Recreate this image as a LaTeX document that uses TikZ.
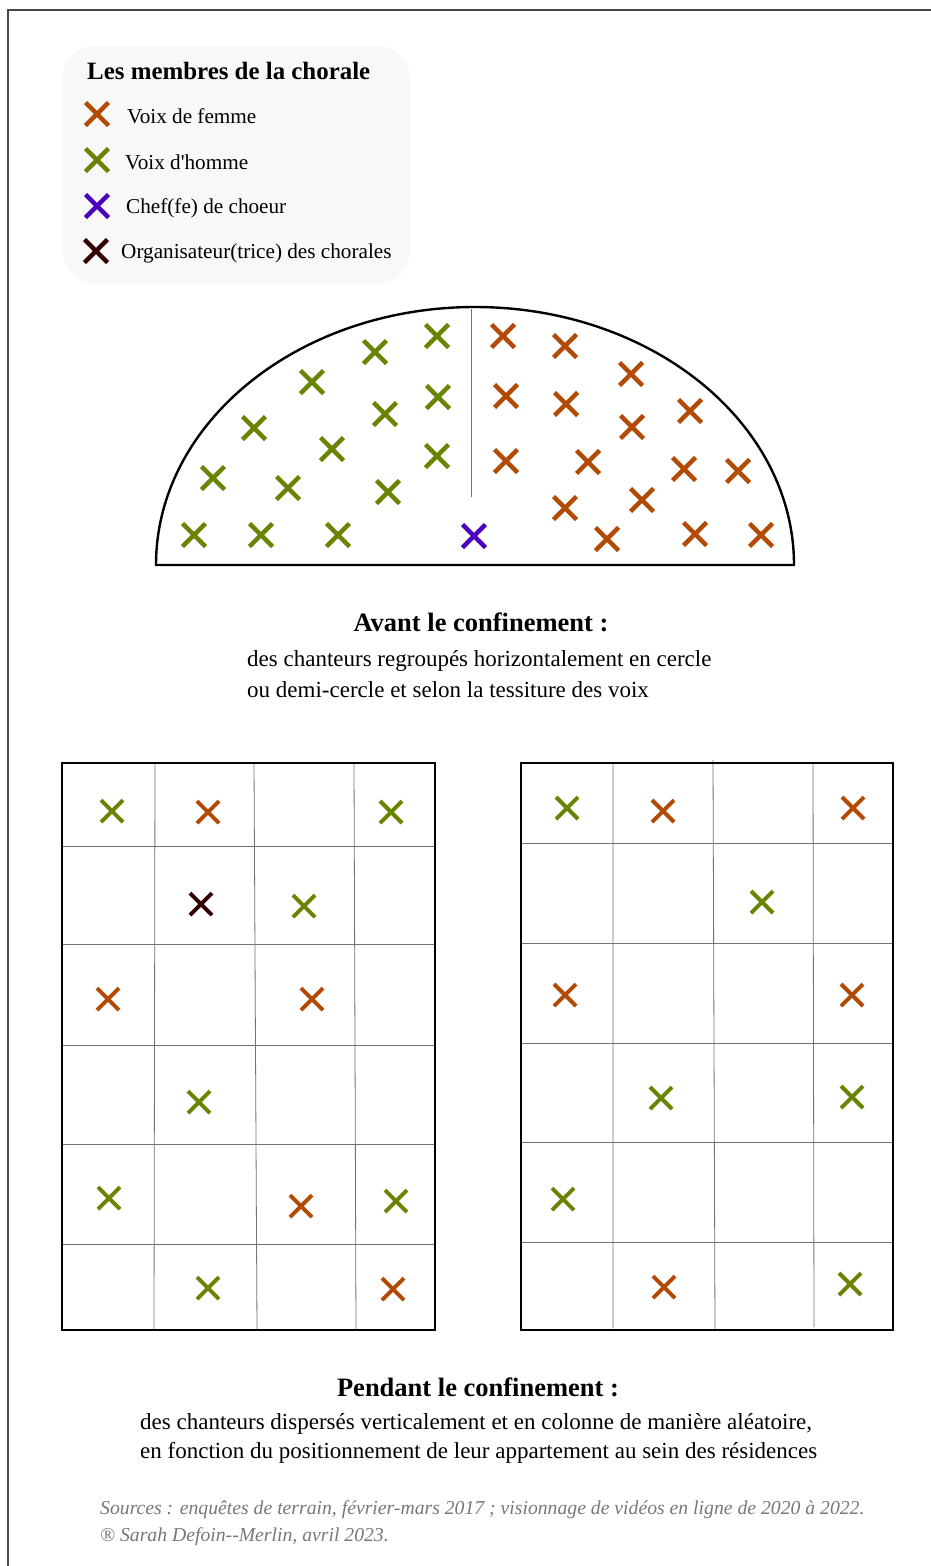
\documentclass[tikz,border=0pt]{standalone}
\usepackage{fontspec}
\newfontfamily\lib{Liberation Serif}
\definecolor{femmec}{RGB}{178,74,4}
\definecolor{hommec}{RGB}{104,132,0}
\definecolor{chefc}{RGB}{74,0,190}
\definecolor{orgac}{RGB}{52,0,0}
\definecolor{legendbg}{RGB}{248,248,248}
\definecolor{footc}{RGB}{120,120,120}
\definecolor{framec}{RGB}{70,70,70}
\begin{document}
\begin{tikzpicture}[x=1pt,y=-1pt,
  every node/.style={font=\lib, inner sep=0pt},
  femme/.style={color=femmec},
  homme/.style={color=hommec},
  chef/.style={color=chefc},
  orga/.style={color=orgac},
  cross/.pic={\draw[line width=4.3pt] (-11.5,-11.5)--(11.5,11.5) (-11.5,11.5)--(11.5,-11.5);},
  gcross/.pic={\draw[line width=3.9pt] (-11,-11)--(11,11) (-11,11)--(11,-11);},
  inner/.style={draw=black!55, line width=0.8pt},
  outer/.style={draw=black, line width=1.8pt},
  legtext/.style={anchor=west, font=\lib\fontsize{21.2}{24}\selectfont},
  title/.style={font=\lib\bfseries\fontsize{26.5}{30}\selectfont},
  desc/.style={anchor=west, font=\lib\fontsize{23}{27}\selectfont},
  foot/.style={anchor=west, text=footc, font=\lib\itshape\fontsize{19.7}{23}\selectfont}
]
\useasboundingbox (0,0) rectangle (931,1566);
\fill[white] (0,0) rectangle (931,1566);
% frame
\draw[framec, line width=1.2pt] (8,1566) -- (8,10) -- (931,10);

% legend
\fill[legendbg, rounded corners=32pt] (63,46) rectangle (410,283);
\node[anchor=west, font=\lib\bfseries\fontsize{24.9}{28}\selectfont] (legtitle) at (87,71) {Les membres de la chorale};
\pic[femme] at (97,114) {cross};
\pic[homme] at (97,160) {cross};
\pic[chef] at (97,206) {cross};
\pic[orga] at (96,251) {cross};
\node[legtext] (lf) at (127,116) {Voix de femme};
\node[legtext] (lh) at (125,162) {Voix d'homme};
\node[legtext] (lc) at (126,208) {Chef(fe) de choeur};
\node[legtext] (lo) at (121,253) {Organisateur(trice) des chorales};

% semicircle
\draw[black, line width=2.4pt] (156,565) arc[start angle=180, end angle=0, x radius=319pt, y radius=258pt] -- cycle;
\draw[inner] (471,309) -- (471,497);
\foreach \x/\y in {437/336,375/352,312/382,438/397,385/414,254/428,332/449,437/456,213/478,288/488,388/492,194/535,261/535,338/535}
  \pic[homme] at (\x,\y) {cross};
\foreach \x/\y in {503/336,565/346,631/374,506/396,566/404,690/411,632/427,506/461,588/462,684/469,738/471,642/500,565/508,695/534,607/539,761/535}
  \pic[femme] at (\x,\y) {cross};
\pic[chef] at (474,536) {cross};

\node[title] (avant) at (481,622) {Avant le confinement :};
\node[desc] (avant1) at (247,661) {des chanteurs regroupés horizontalement en cercle};
\node[desc] (avant2) at (247,690) {ou demi-cercle et selon la tessiture des voix};

% left grid
\draw[inner] (155,763) -- (154,1330) (254,763) -- (257,1330) (354,763) -- (356,1330);
\foreach \y in {846,944,1045,1144,1244} \draw[inner] (63,\y) -- (434,\y);
\draw[outer] (62,763) rectangle (435,1330);
\foreach \x/\y in {112/811,391/812,304/906,199/1102,109/1198,396/1201,208/1288}
  \pic[homme] at (\x,\y) {gcross};
\foreach \x/\y in {208/812,108/999,312/999,301/1206,393/1289}
  \pic[femme] at (\x,\y) {gcross};
\pic[orga] at (201,904) {gcross};

% right grid
\draw[inner] (613,763) -- (613,1328) (713,760) -- (715,1330) (813,763) -- (814,1327);
\foreach \y in {843,943,1043,1142,1242} \draw[inner] (522,\y) -- (892,\y);
\draw[outer] (521,763) rectangle (893,1330);
\foreach \x/\y in {567/808,762/902,661/1098,852/1097,563/1199,850/1284}
  \pic[homme] at (\x,\y) {gcross};
\foreach \x/\y in {663/811,853/808,565/995,852/995,664/1287}
  \pic[femme] at (\x,\y) {gcross};

\node[title] (pendant) at (478,1387) {Pendant le confinement :};
\node[desc] (pendant1) at (140,1424) {des chanteurs dispersés verticalement et en colonne de manière aléatoire,};
\node[desc] (pendant2) at (140,1453) {en fonction du positionnement de leur appartement au sein des résidences};

\node[foot] (src) at (100,1510) {Sources : enquêtes de terrain, février-mars 2017 ; visionnage de vidéos en ligne de 2020 à 2022.};
\node[foot] (copy) at (100,1537) {® Sarah Defoin--Merlin, avril 2023.};
\end{tikzpicture}
\end{document}
